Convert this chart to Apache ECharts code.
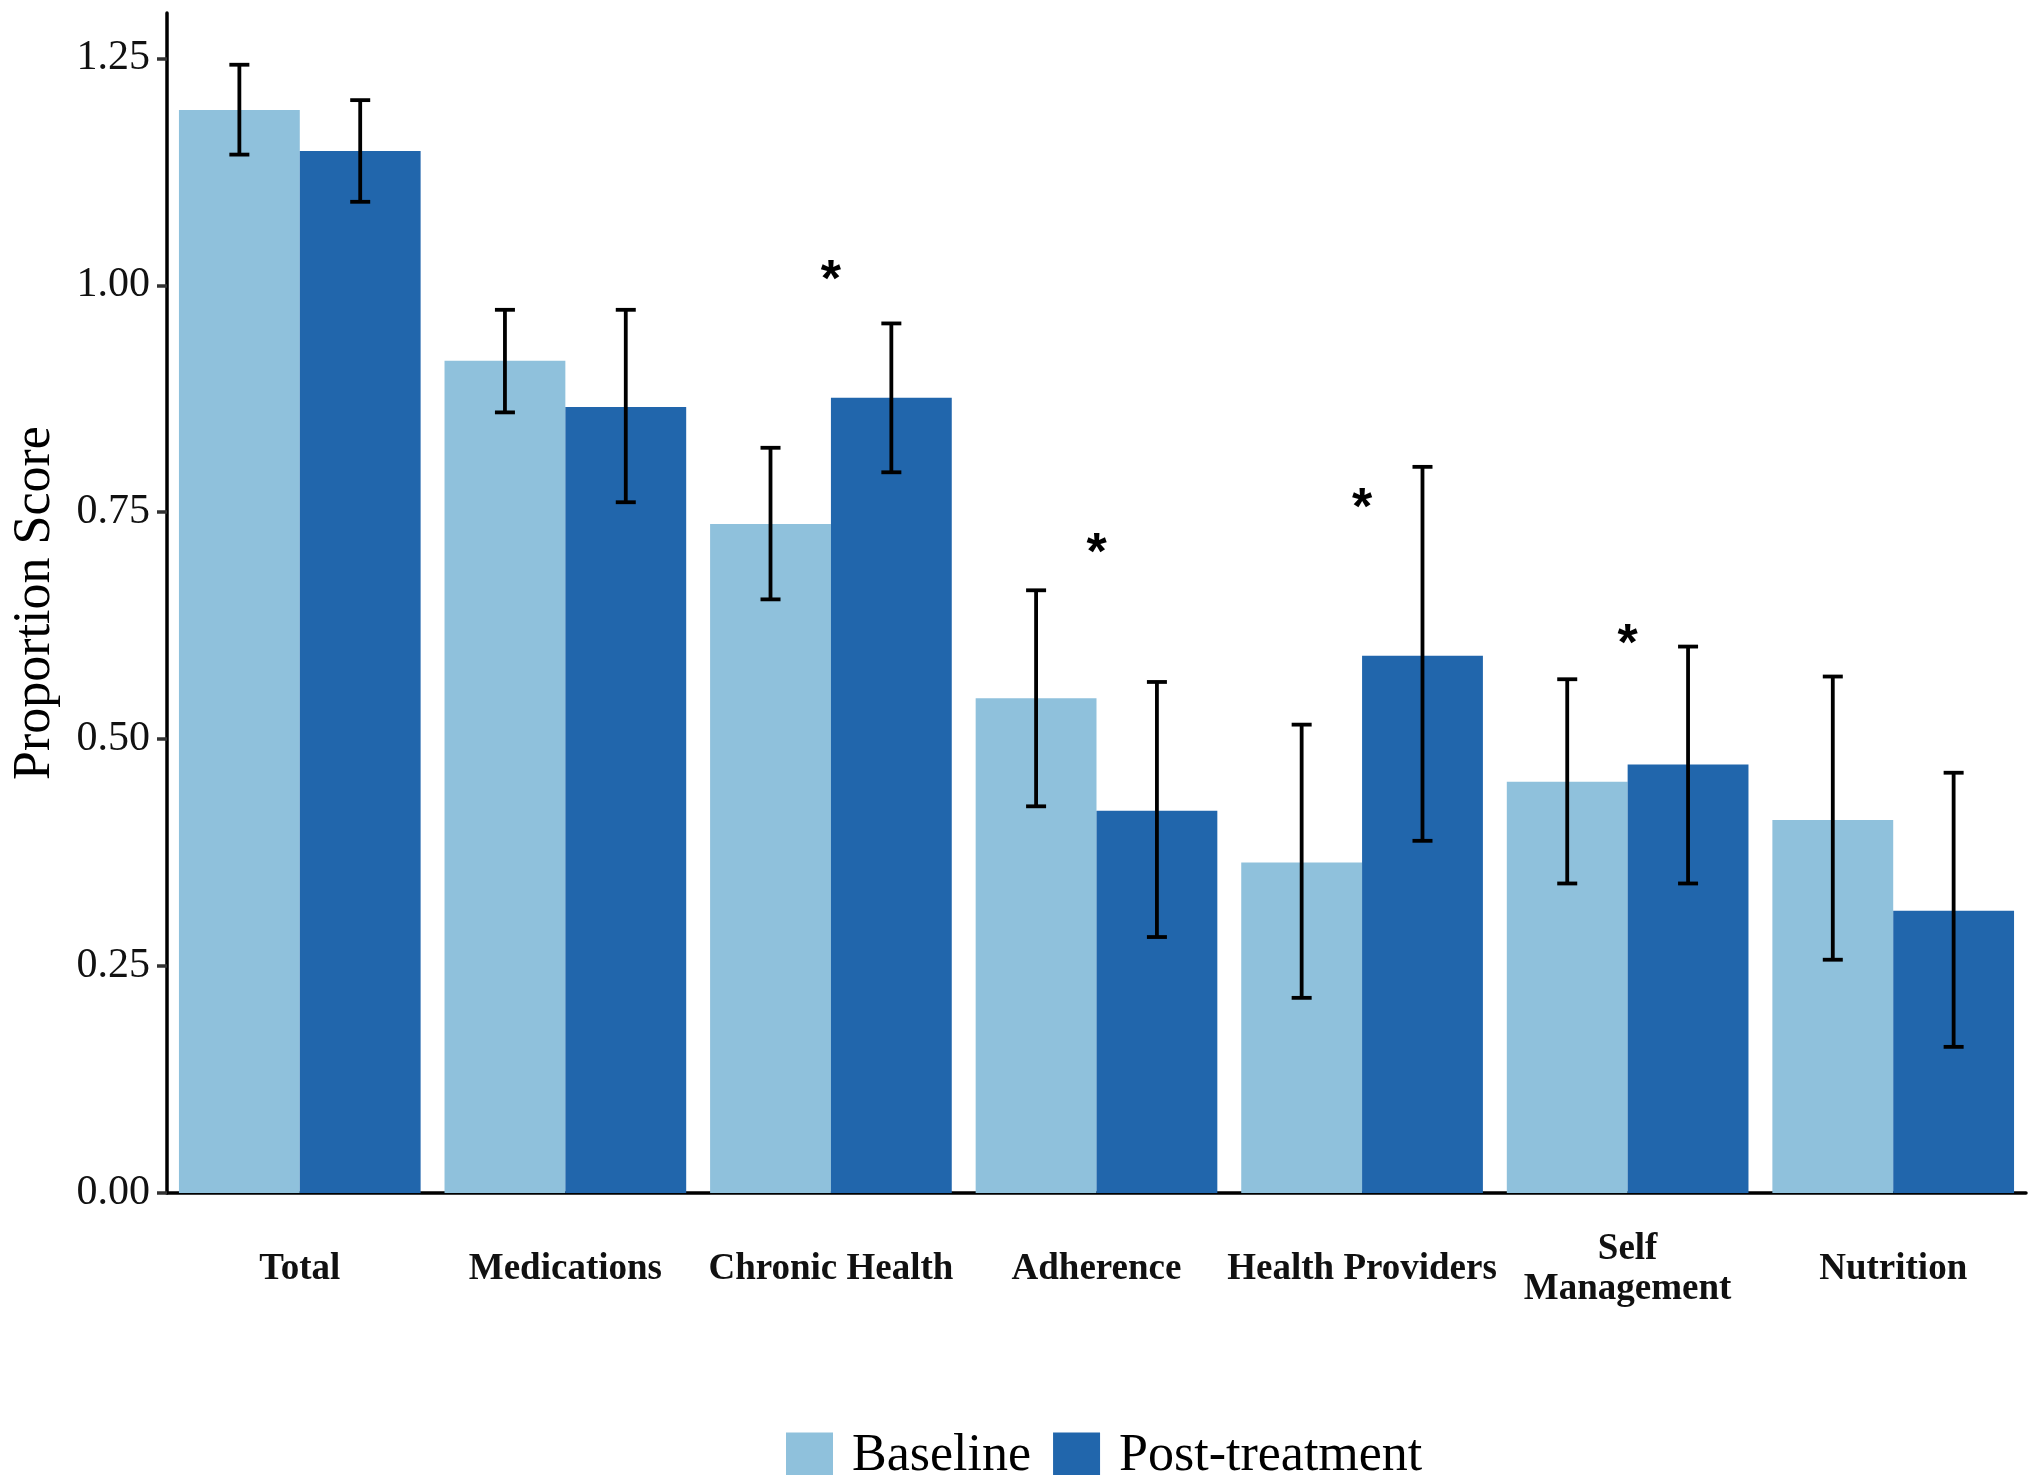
<!DOCTYPE html>
<html>
<head>
<meta charset="utf-8">
<title>Proportion Score: Baseline vs Post-treatment</title>
<script src="https://cdn.jsdelivr.net/npm/echarts@6/dist/echarts.min.js"></script>
<style>
  html, body { margin: 0; padding: 0; background: #ffffff; }
  #chart { width: 2042px; height: 1475px; }
</style>
</head>
<body>
<div id="chart"></div>
<script>
// Domains of the questionnaire
const categories = ['Total', 'Medications', 'Chronic Health', 'Adherence', 'Health Providers', 'Self\nManagement', 'Nutrition'];

// Mean proportion scores with lower / upper error limits
const baseline     = [1.193, 0.917, 0.737, 0.545, 0.364, 0.453, 0.411];
const baselineLow  = [1.144, 0.860, 0.654, 0.426, 0.215, 0.341, 0.257];
const baselineHigh = [1.243, 0.973, 0.821, 0.664, 0.516, 0.566, 0.569];

const post     = [1.148, 0.866, 0.876, 0.421, 0.592, 0.472, 0.311];
const postLow  = [1.092, 0.761, 0.794, 0.282, 0.388, 0.341, 0.161];
const postHigh = [1.204, 0.973, 0.958, 0.563, 0.800, 0.602, 0.463];

// Significance markers: category index and height on the score scale
const sigIndex  = [2, 3, 4, 5];
const sigHeight = [1.012, 0.711, 0.761, 0.611];

const yTicks = [0, 0.25, 0.5, 0.75, 1.0, 1.25];

const COLOR_BASE = '#8fc1dc';
const COLOR_POST = '#2166ac';
const SERIF = '"Liberation Serif", "Times New Roman", serif';

// bars fill 91% of each category, split in two halves
const BAR_OFFSET = 0.2275;

function errorBarSeries(low, high, offset) {
  return {
    type: 'custom',
    z: 5,
    silent: true,
    data: low.map((v, i) => [i, v, high[i]]),
    renderItem: function (params, api) {
      const idx = api.value(0);
      const bw = api.size([1, 0])[0];
      const pLow = api.coord([idx, api.value(1)]);
      const pHigh = api.coord([idx, api.value(2)]);
      const x = pLow[0] + offset * bw;
      const cap = 10;
      const style = { stroke: '#000000', lineWidth: 3.8 };
      return {
        type: 'group',
        children: [
          { type: 'line', shape: { x1: x, y1: pLow[1], x2: x, y2: pHigh[1] }, style: style },
          { type: 'line', shape: { x1: x - cap, y1: pLow[1], x2: x + cap, y2: pLow[1] }, style: style },
          { type: 'line', shape: { x1: x - cap, y1: pHigh[1], x2: x + cap, y2: pHigh[1] }, style: style }
        ]
      };
    }
  };
}

const chart = echarts.init(document.getElementById('chart'), null, { renderer: 'canvas' });

chart.setOption({
  backgroundColor: '#ffffff',
  animation: false,
  grid: { left: 167, right: 16, top: 13, bottom: 282, containLabel: false },
  legend: {
    data: ['Baseline', 'Post-treatment'],
    left: 781,
    top: 1425,
    icon: 'rect',
    itemWidth: 47,
    itemHeight: 47,
    itemGap: 22,
    textStyle: {
      fontFamily: SERIF,
      fontSize: 52,
      color: '#000000',
      padding: [0, 0, 0, 14]
    }
  },
  xAxis: {
    type: 'category',
    data: categories,
    boundaryGap: true,
    axisLine: { lineStyle: { color: '#000000', width: 3.5 } },
    axisTick: { show: false },
    axisLabel: {
      interval: 0,
      margin: 76,
      verticalAlign: 'middle',
      fontFamily: SERIF,
      fontWeight: 'bold',
      fontSize: 37,
      lineHeight: 40,
      color: '#111111'
    },
    splitLine: { show: false }
  },
  yAxis: {
    type: 'value',
    min: 0,
    max: 1.3,
    name: 'Proportion Score',
    nameLocation: 'middle',
    nameGap: 106,
    nameTextStyle: { fontFamily: SERIF, fontSize: 52, color: '#000000' },
    axisLine: { show: true, lineStyle: { color: '#000000', width: 3.5 } },
    axisTick: {
      show: true,
      length: 10,
      lineStyle: { color: '#333333', width: 3.5 },
      customValues: yTicks
    },
    axisLabel: {
      margin: 17,
      fontFamily: SERIF,
      fontSize: 42,
      color: '#111111',
      customValues: yTicks,
      formatter: v => v.toFixed(2)
    },
    splitLine: { show: false }
  },
  series: [
    {
      name: 'Baseline',
      type: 'bar',
      data: baseline,
      itemStyle: { color: COLOR_BASE },
      barGap: '0%',
      barCategoryGap: '9%'
    },
    {
      name: 'Post-treatment',
      type: 'bar',
      data: post,
      itemStyle: { color: COLOR_POST },
      barGap: '0%',
      barCategoryGap: '9%'
    },
    errorBarSeries(baselineLow, baselineHigh, -BAR_OFFSET),
    errorBarSeries(postLow, postHigh, BAR_OFFSET),
    {
      type: 'custom',
      z: 6,
      silent: true,
      data: sigIndex.map((c, i) => [c, sigHeight[i]]),
      renderItem: function (params, api) {
        const p = api.coord([api.value(0), api.value(1)]);
        return {
          type: 'text',
          x: p[0],
          y: p[1] + 7,
          style: {
            text: '*',
            fontFamily: '"Liberation Sans", Arial, sans-serif',
            fontWeight: 'bold',
            fontSize: 52,
            fill: '#000000',
            align: 'center',
            verticalAlign: 'middle'
          }
        };
      }
    }
  ]
});
</script>
</body>
</html>
